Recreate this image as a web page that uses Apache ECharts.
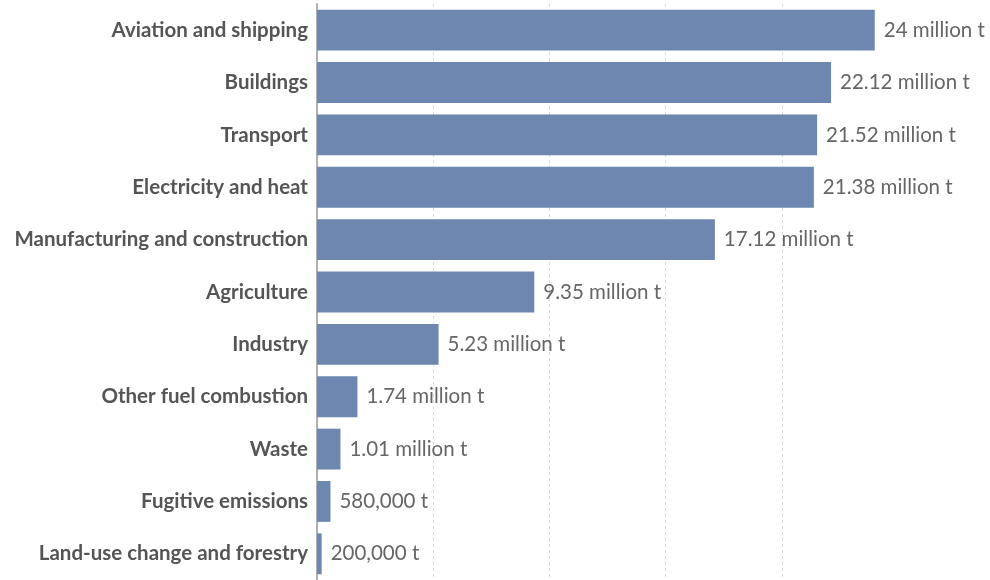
<!DOCTYPE html>
<html>
<head>
<meta charset="utf-8">
<script src="https://cdn.jsdelivr.net/npm/echarts@6/dist/echarts.min.js"></script>
<style>
  html, body { margin: 0; padding: 0; background: #fff; }
  #chart { width: 990px; height: 580px; }
</style>
</head>
<body>
<div id="chart"></div>
<script>
// Greenhouse gas emissions by sector, in tonnes
const sectors = [
  'Aviation and shipping',
  'Buildings',
  'Transport',
  'Electricity and heat',
  'Manufacturing and construction',
  'Agriculture',
  'Industry',
  'Other fuel combustion',
  'Waste',
  'Fugitive emissions',
  'Land-use change and forestry'
];
const emissions = [
  24000000, 22120000, 21520000, 21380000, 17120000,
  9350000, 5230000, 1740000, 1010000, 580000, 200000
];
const xTicks = [0, 5000000, 10000000, 15000000, 20000000, 25000000];

function formatTonnes(v) {
  if (v >= 1e6) {
    return parseFloat((v / 1e6).toFixed(2)) + ' million t';
  }
  return v.toLocaleString('en-US') + ' t';
}

const chart = echarts.init(document.getElementById('chart'), null, { renderer: 'canvas' });
chart.setOption({
  animation: false,
  textStyle: { fontFamily: 'Lato' },
  grid: { left: 317, right: 92, top: 4, bottom: -1, containLabel: false },
  xAxis: {
    type: 'value',
    min: xTicks[0],
    max: xTicks[xTicks.length - 1],
    interval: xTicks[1] - xTicks[0],
    axisLabel: { show: false },
    axisTick: { show: false },
    axisLine: { show: false },
    splitLine: {
      show: true,
      showMinLine: false,
      showMaxLine: false,
      lineStyle: { color: '#dcdcdc', type: [3, 3], width: 1 }
    }
  },
  yAxis: {
    type: 'category',
    inverse: true,
    data: sectors,
    axisTick: { show: false },
    axisLine: { show: true, lineStyle: { color: '#b0b0b0', width: 2 } },
    axisLabel: {
      margin: 9,
      fontFamily: 'Lato',
      fontWeight: 'bold',
      fontSize: 20.5,
      color: '#555555'
    }
  },
  series: [{
    type: 'bar',
    data: emissions,
    barCategoryGap: '22%',
    itemStyle: { color: '#6d87b0' },
    label: {
      show: true,
      position: 'right',
      distance: 9,
      fontFamily: 'Lato',
      fontSize: 20.5,
      color: '#666666',
      formatter: p => formatTonnes(p.value)
    }
  }]
});
</script>
</body>
</html>
